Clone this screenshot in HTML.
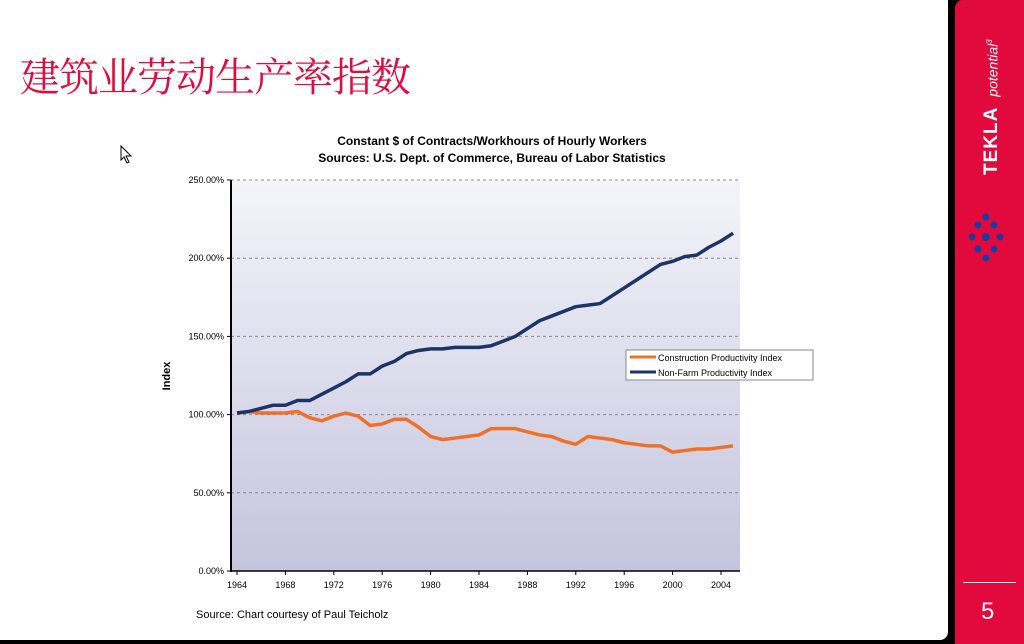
<!DOCTYPE html>
<html><head><meta charset="utf-8"><style>
html,body{margin:0;padding:0;width:1024px;height:644px;overflow:hidden;background:#000;}
#slide{position:absolute;left:0;top:0;width:948px;height:640px;background:#fff;border-radius:0 0 8px 0;}
#side{position:absolute;left:955px;top:0;width:69px;height:644px;background:#e2093c;border-radius:8px 0 0 0;}
svg text{font-family:"Liberation Sans",Arial,sans-serif;}
.rot{position:absolute;transform:rotate(-90deg);text-align:center;color:#fff;font-family:'Liberation Sans',sans-serif;white-space:nowrap;}
</style></head><body>
<div id="slide">
<div style="position:absolute;left:20px;top:46px;font-family:'Liberation Serif','Noto Serif CJK SC',serif;font-size:40px;letter-spacing:-1px;color:#e2093c;">建筑业劳动生产率指数</div>
<div style="position:absolute;left:196px;top:609px;font-family:'Liberation Sans',sans-serif;font-size:11px;color:#000;">Source: Chart courtesy of Paul Teicholz</div>
</div>
<div id="side">
<div class="rot" style="left:7px;top:134px;width:60px;height:22px;line-height:22px;font-weight:bold;font-size:19px;letter-spacing:1px;">TEKLA</div>
<div class="rot" style="left:-5px;top:59px;width:80px;height:18px;line-height:18px;font-style:italic;font-size:14px;">potential<sup style="font-size:8px">3</sup></div>
<svg style="position:absolute;left:14px;top:212px" width="34" height="52"><g fill="#1b3d9a"><circle cx="17" cy="5" r="3.5"/><circle cx="9" cy="13" r="3.5"/><circle cx="25" cy="13" r="3.5"/><circle cx="3" cy="25" r="3.5"/><circle cx="31" cy="25" r="3.5"/><circle cx="17" cy="25" r="4"/><circle cx="9" cy="37" r="3.5"/><circle cx="25" cy="37" r="3.5"/><circle cx="17" cy="46" r="3.5"/></g></svg>
<div style="position:absolute;left:8px;top:582px;width:53px;height:1px;background:#fff;"></div>
<div style="position:absolute;left:26px;top:598px;color:#fff;font-family:'Liberation Sans',sans-serif;font-size:24px;">5</div>
</div>
<svg id="chart" width="948" height="640" style="position:absolute;left:0;top:0">
<defs><linearGradient id="bg" x1="0" y1="0" x2="0" y2="1"><stop offset="0" stop-color="#f4f4fa"/><stop offset="1" stop-color="#c4c4de"/></linearGradient></defs>
<path d="M121,146 L121,160 L124,157 L127,163 L129,162 L126,156 L131,156 Z" fill="#fff" stroke="#000" stroke-width="1"/>
<text x="492" y="145" text-anchor="middle" font-size="12" font-weight="bold">Constant $ of Contracts/Workhours of Hourly Workers</text>
<text x="492" y="162" text-anchor="middle" font-size="12" font-weight="bold">Sources: U.S. Dept. of Commerce, Bureau of Labor Statistics</text>
<rect x="231" y="180" width="509" height="391" fill="url(#bg)"/>
<g id="grid"></g><g id="axes"></g><g id="series"></g>
<text transform="translate(170,376) rotate(-90)" text-anchor="middle" font-size="11" font-weight="bold">Index</text>
<g>
<rect x="626" y="350" width="187" height="30" fill="#fff" stroke="#888" stroke-width="1"/>
<line x1="630" y1="357" x2="656" y2="357" stroke="#f07028" stroke-width="3"/>
<text x="658" y="361" font-size="9">Construction Productivity Index</text>
<line x1="630" y1="372" x2="656" y2="372" stroke="#1d3466" stroke-width="3"/>
<text x="658" y="376" font-size="9">Non-Farm Productivity Index</text>
</g>
</svg>
<script>
const years=[1964,1965,1966,1967,1968,1969,1970,1971,1972,1973,1974,1975,1976,1977,1978,1979,1980,1981,1982,1983,1984,1985,1986,1987,1988,1989,1990,1991,1992,1993,1994,1995,1996,1997,1998,1999,2000,2001,2002,2003,2004,2005];
const nonFarm=[101,102,104,106,106,109,109,113,117,121,126,126,131,134,139,141,142,142,143,143,143,144,147,150,155,160,163,166,169,170,171,176,181,186,191,196,198,201,202,207,211,216];
const construction=[101,102,101,101,101,102,98,96,99,101,99,93,94,97,97,92,86,84,85,86,87,91,91,91,89,87,86,83,81,86,85,84,82,81,80,80,76,77,78,78,79,80];
const yTicks=[0,50,100,150,200,250];
const yTickLabels=["0.00%","50.00%","100.00%","150.00%","200.00%","250.00%"];
const xTicks=[1964,1968,1972,1976,1980,1984,1988,1992,1996,2000,2004];
const NS='http://www.w3.org/2000/svg';
function xs(y){return 237+(y-1964)*12.1;}
function ys(v){return 571-v*1.564;}
function mk(t,a,p){const e=document.createElementNS(NS,t);for(const k in a)e.setAttribute(k,a[k]);p.appendChild(e);return e;}
const grid=document.getElementById('grid'),axes=document.getElementById('axes'),ser=document.getElementById('series');
yTicks.forEach((v,i)=>{
 if(v>0){const g=mk('line',{x1:231,x2:740,y1:ys(v),y2:ys(v),stroke:'#888','stroke-dasharray':'3,3','stroke-width':1},grid);
 
 }
 const tk=mk('line',{x1:227,x2:231,y1:ys(v),y2:ys(v),stroke:'#000'},axes);
 
 
 const t=mk('text',{x:224,y:ys(v)+3,'text-anchor':'end','font-size':9},axes);t.textContent=yTickLabels[i];
 
 
});
xTicks.forEach(y=>{
 const tk=mk('line',{x1:xs(y),x2:xs(y),y1:571,y2:575,stroke:'#000'},axes);
 
 
 const t=mk('text',{x:xs(y),y:588,'text-anchor':'middle','font-size':9},axes);t.textContent=y;
 
 
});
const ya=mk('line',{x1:231,x2:231,y1:180,y2:572,stroke:'#000','stroke-width':2},axes);


const xa=mk('line',{x1:230,x2:740,y1:571,y2:571,stroke:'#000','stroke-width':1.5},axes);


function line(vals,col,name){
 const p=mk('polyline',{points:vals.map((v,i)=>xs(years[i])+','+ys(v)).join(' '),fill:'none',stroke:col,'stroke-width':3.5,'stroke-linejoin':'round'},ser);
 
 
}
line(construction,'#f07028','construction-line');
line(nonFarm,'#1d3466','nonfarm-line');
</script>
</body></html>
